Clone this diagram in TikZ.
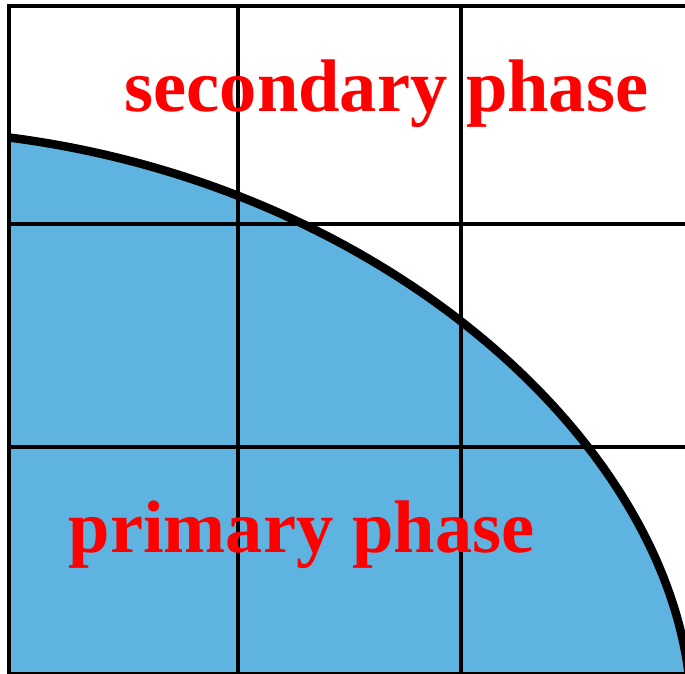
\documentclass[tikz,border=0pt]{standalone}
\usepackage{fontspec}
\setmainfont{Liberation Serif}
\definecolor{phaseblue}{RGB}{94,179,224}
\definecolor{labelred}{RGB}{255,0,0}
\tikzset{
  gridline/.style={draw=black, line width=4pt},
  frameline/.style={draw=black, line width=4.5pt},
  interface/.style={draw=black, line width=8.5pt},
  phaselabel/.style={text=labelred, anchor=base, inner sep=0pt, font=\bfseries\fontsize{74.5}{80}\selectfont}
}
\begin{document}
\begin{tikzpicture}[x=1pt,y=-1pt]
\useasboundingbox (0,0) rectangle (685,674);
\coordinate (arcA) at (9,137.5);
\coordinate (arcB) at (690,686);
\begin{scope}
  \clip (9,6) rectangle (685,674);
  \fill[phaseblue] (0,137.5) -- (arcA) .. controls (380,185) and (667,438) .. (arcB) -- (700,720) -- (0,720) -- cycle;
\end{scope}
% grid
\draw[gridline] (9,224) -- (685,224);
\draw[gridline] (9,447) -- (685,447);
\draw[gridline] (237.5,6) -- (237.5,674);
\draw[gridline] (461,6) -- (461,674);
\draw[frameline] (9,674) -- (9,6) -- (685,6);
\draw[gridline] (9,673.5) -- (685,673.5);
% interface
\begin{scope}
  \clip (9,0) rectangle (685,674);
  \draw[interface] (arcA) .. controls (380,185) and (667,438) .. (arcB);
\end{scope}
\node[phaselabel] (sec) at (386.5,112) {secondary phase};
\node[phaselabel] (pri) at (301.5,552) {primary phase};
\end{tikzpicture}
\end{document}
